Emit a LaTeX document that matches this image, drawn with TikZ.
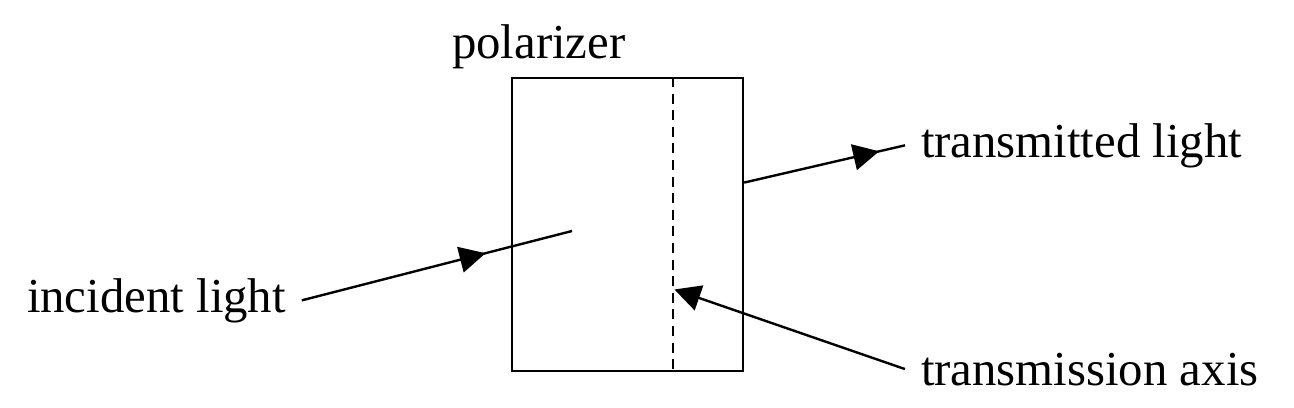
\documentclass[tikz,border=0pt]{standalone}
\usepackage{fontspec}
\setmainfont{Liberation Serif}
\usetikzlibrary{arrows.meta,calc,decorations.markings}

\begin{document}
\begin{tikzpicture}[
    x=0.5pt, y=-0.5pt,
    font=\fontsize{24.4}{28}\selectfont,
    tag/.style={inner sep=0pt, outer sep=8pt, anchor=base west},
    ray/.style={line width=1.2pt},
    tipshape/.style={-{Triangle[length=13pt,width=13pt]}},
    mid arrow/.style={postaction={decorate},
        decoration={markings,
            mark=at position #1 with {\arrow{Triangle[length=13pt,width=13pt]}}}},
    plate/.style={draw, line width=1.1pt, inner sep=0pt,
                  minimum width=115.5pt, minimum height=146.5pt}
]
\useasboundingbox (0,0) rectangle (1294,407);

% polarizer sheet with its axis
\node[plate] (pol) at (627.5,224.5) {};
\coordinate (axtop) at ($(pol.north west)!0.697!(pol.north east)$);
\coordinate (axbot) at ($(pol.south west)!0.697!(pol.south east)$);
\draw[line width=1pt, dash pattern=on 5pt off 3.3pt] (axtop) -- (axbot);

% labels
\node[tag] (name) at (436,58) {polarizer};
\node[tag] (inc) at (11,312) {incident light};
\node[tag] (trans) at (905,157) {transmitted light};
\node[tag] (axis) at (905,385) {transmission axis};

% free ends of the rays
\coordinate (incend) at (572,231);
\coordinate (outstart) at ($(pol.north east)!0.358!(pol.south east)$);
\coordinate (axtip) at ($(axtop)!0.72!(axbot)+(1,0)$);

% rays
\draw[ray, mid arrow=0.68] (inc.east) -- (incend);
\draw[ray, mid arrow=0.84] (outstart) -- (trans.west);
\draw[ray, tipshape] (axis.west) -- (axtip);
\end{tikzpicture}
\end{document}
